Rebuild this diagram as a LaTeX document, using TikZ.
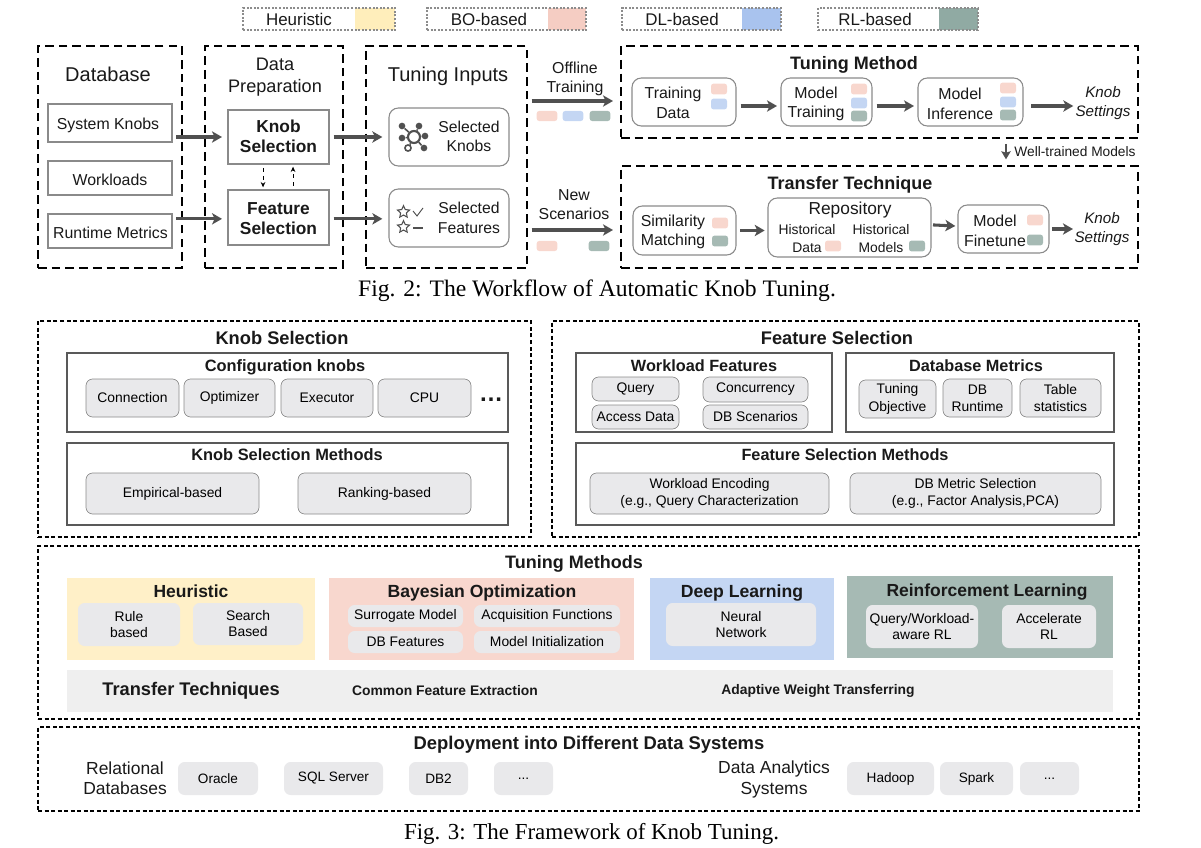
\documentclass[tikz,border=0pt]{standalone}
\usepackage{fontspec}
\setmainfont{Liberation Sans}
\newfontfamily\capfont{Liberation Serif}
\usetikzlibrary{arrows.meta,shapes.geometric}
\definecolor{heurcol}{HTML}{FFF0C8}
\definecolor{bocol}{HTML}{F8D7CE}
\definecolor{dlcol}{HTML}{C4D6F3}
\definecolor{rlcol}{HTML}{A6BAB4}
\definecolor{heurkey}{HTML}{FFEEBB}
\definecolor{bokey}{HTML}{F5CDC3}
\definecolor{dlkey}{HTML}{A9C3EE}
\definecolor{rlkey}{HTML}{90AAA3}
\definecolor{itemcol}{HTML}{E9E9EB}
\definecolor{bandcol}{HTML}{EFEFEF}
\definecolor{edgecol}{HTML}{8A8A8A}
\definecolor{arrcol}{HTML}{505050}
\tikzset{
  fs/.style={font=\fontsize{#1}{\fpeval{#1*1.15}}\selectfont},
  fl/.style={font=\fontsize{#1}{\fpeval{#1*1.24}}\selectfont},
  fb/.style={font=\fontsize{#1}{\fpeval{#1*1.15}}\selectfont\bfseries},
  fi/.style={font=\fontsize{#1}{\fpeval{#1*1.2}}\selectfont\itshape},
  txt/.style={align=center,inner sep=0pt,text=black!90},
  stage/.style={draw=black,line width=1.5pt,dash pattern=on 6.5pt off 3.8pt},
  panel/.style={draw=black,line width=1.1pt,dash pattern=on 3pt off 1.9pt},
  flat/.style={draw=edgecol,line width=1pt},
  soft/.style={draw=edgecol,line width=.8pt,rounded corners=7pt},
  frame/.style={draw=black!65,line width=1.2pt},
  item/.style={fill=itemcol,rounded corners=5pt},
  swatch/.style={minimum width=12pt,minimum height=8.2pt,inner sep=0pt,rounded corners=2pt},
  wide/.style={minimum width=15.5pt,minimum height=7.6pt},
  keybox/.style={draw=black!45,line width=.9pt,dash pattern=on 1.5pt off 1.2pt},
  bigarr/.style={draw=arrcol,line width=2.3pt,-{Stealth[length=7.5pt,width=8.5pt,inset=2pt]},shorten <=3.5pt,shorten >=5pt},
  dasharr/.style={draw=black,line width=.7pt,dashed,-{Stealth[length=4pt,width=3.5pt]},shorten <=3pt,shorten >=2pt},
  dot/.style={circle,fill=arrcol,inner sep=0pt,minimum size=5pt},
}
\begin{document}
\begin{tikzpicture}[x=.75pt,y=-.75pt]
  \useasboundingbox (0,0) rectangle (1201,848);
  \def\bx[#1](#2)(#3,#4)(#5,#6)#7{%
    \pgfmathsetmacro\cx{(#3+#5)/2}%
    \pgfmathsetmacro\cy{(#4+#6)/2}%
    \node[#1,align=center,inner sep=0pt,outer sep=0pt,
      minimum width={(#5-#3)*.75pt},minimum height={(#6-#4)*.75pt}] (#2) at (\cx,\cy) {#7};}
  \def\more{...}

  % legend
  \foreach \nm/\xa/\xs/\xb/\cc/\xt/\tx in {heur/243/355/395/heurkey/299/Heuristic,bo/427/548/586/bokey/489/BO-based,
    dl/622/742/781/dlkey/682/DL-based,rl/818/939/978/rlkey/875/RL-based}{
    \bx[fill=\cc](\nm key)(\xs,8)(\xb,30){}
    \bx[keybox](\nm box)(\xa,8)(\xb,30){}
    \node[txt,fs=12.7] (\nm txt) at (\xt,19) {\tx};
  }

  % top row, the dashed stages
  \bx[stage](db)(38,46)(182,268){}
  \bx[stage](prep)(205,46)(343,268){}
  \bx[stage](inputs)(366,46)(527,268){}
  \bx[stage](tmethod)(621,46)(1138,138){}
  \bx[stage](ttrans)(621,166)(1138,268){}
  \node[txt,fs=15] (dbtxt) at (108,74) {Database};
  \node[txt,fl=13.6] (preptxt) at (275,77) {Data\\Preparation};
  \node[txt,fs=15] (inputstxt) at (448,76.5) {Tuning Inputs};
  \node[txt,fb=13.5] (tmethodtxt) at (854,65) {Tuning Method};
  \node[txt,fb=13.5] (ttranstxt) at (850,185) {Transfer Technique};

  \bx[flat](sysknobs)(48,104)(172,142){}
  \bx[flat](workloads)(48,161)(172,195){}
  \bx[flat](runtime)(48,214)(172,248){}
  \node[txt,fs=11.9] (sysknobstxt) at (108,125) {System Knobs};
  \node[txt,fs=11.9] (workloadstxt) at (110,180) {Workloads};
  \node[txt,fs=11.9] (runtimetxt) at (110.5,233) {Runtime Metrics};
  \bx[flat](knobsel)(228,110)(329,164){}
  \bx[flat](featsel)(228,190)(329,245){}
  \node[txt,fb=13] (knobseltxt) at (278.5,136) {Knob\\Selection};
  \node[txt,fb=13] (featseltxt) at (278.5,218.5) {Feature\\Selection};
  \bx[soft](selknobs)(389,108)(509,166){}
  \bx[soft](selfeats)(389,189)(509,247){}
  \node[txt,fl=11.8] (selknobstxt) at (469,136.5) {Selected\\Knobs};
  \node[txt,fl=11.8] (selfeatstxt) at (469,218) {Selected\\Features};

  % icon of the knobs
  \node[circle,draw=arrcol,line width=1.6pt,fill=white,minimum size=9pt,inner sep=0pt] (hub) at (414,137) {};
  \foreach \nm/\xx/\yy in {a/402/126,b/419/126,c/425/136,d/402/138,e/424/148}{
    \node[dot] (sat\nm) at (\xx,\yy) {};
    \draw[arrcol,line width=1.2pt] (hub) -- (sat\nm);
  }
  \node[circle,draw=arrcol,line width=1.2pt,fill=white,minimum size=4.6pt,inner sep=0pt] (satf) at (408,148) {};
  \draw[arrcol,line width=1.2pt] (hub) -- (satf);

  % icon of the features
  \foreach \nm/\yy in {a/212,b/227}
    \node[star,star points=5,star point ratio=2.1,draw=arrcol,line width=.8pt,minimum size=9.5pt,inner sep=0pt] (star\nm) at (403.5,\yy) {};
  \draw[arrcol,line width=.7pt] (413,211)--(417,216)--(423,208);
  \draw[arrcol,line width=.9pt] (413,228)--(423,228);

  % arrows of the left half
  \draw[bigarr,shorten <=3pt,shorten >=4.5pt] (sysknobs.east |- knobsel.west) -- (knobsel.west);
  \draw[bigarr,shorten <=3pt,shorten >=4.5pt] ([yshift=-1pt]runtime.east |- featsel.west) -- ([yshift=-1pt]featsel.west);
  \draw[bigarr] (knobsel.east) -- (selknobs.west);
  \draw[bigarr] ([yshift=-1pt]featsel.east) -- ([yshift=-1pt]selfeats.west |- featsel.east);
  \draw[dasharr] ([xshift=-11.6pt]knobsel.south) -- ([xshift=-11.6pt]featsel.north);
  \draw[dasharr] ([xshift=10.9pt]featsel.north) -- ([xshift=10.9pt]knobsel.south);

  % between inputs and the two stages on the right
  \node[txt,fl=11.9] (offtxt) at (575,79) {Offline\\Training};
  \node[txt,fl=11.9] (newtxt) at (574,204.5) {New\\Scenarios};
  \coordinate (offy) at (570,101);
  \coordinate (newy) at (570,230);
  \draw[bigarr,shorten >=6pt] (inputs.east |- offy) -- (tmethod.west |- offy);
  \draw[bigarr,shorten >=6pt] (inputs.east |- newy) -- (ttrans.west |- newy);
  \foreach \nm/\xx/\yy/\cc in {offa/547/116/bocol,offb/573/116/dlcol,offc/600/116/rlcol,newa/547/246/bocol,newc/599/246/rlcol}
    \node[swatch,wide,fill=\cc] (\nm) at (\xx,\yy) {};

  % tuning method
  \bx[soft](tdata)(632,78)(736,126){}
  \bx[soft](mtrain)(781,78)(872,126){}
  \bx[soft](minfer)(918,78)(1023,126){}
  \node[txt,fl=11.9] (tdatatxt) at (673,103) {Training\\Data};
  \node[txt,fl=11.9] (mtraintxt) at (816,104) {Model\\Training};
  \node[txt,fl=11.9] (minfertxt) at (960,103.5) {Model\\Inference};
  \node[txt,fi=11.4] (settingsa) at (1103,103) {Knob\\Settings};
  \foreach \nm/\xx/\yy/\cc in {tda/719/89/bocol,tdb/719/104/dlcol,
    mta/859/89/bocol,mtb/859/103/dlcol,mtc/859/116/rlcol,
    mia/1008/88/bocol,mib/1008/102/dlcol,mic/1008/115/rlcol}
    \node[swatch,fill=\cc] (\nm) at (\xx,\yy) {};
  \draw[bigarr,shorten <=3.5pt,shorten >=3pt] ([yshift=-3pt]tdata.east) -- ([yshift=-3pt]mtrain.west);
  \draw[bigarr,shorten <=3.5pt,shorten >=3pt] ([yshift=-3pt]mtrain.east) -- ([yshift=-3pt]minfer.west);
  \draw[bigarr,shorten <=6pt,shorten >=1.5pt] ([yshift=-3pt]minfer.east) -- ([yshift=-3pt]settingsa.west |- minfer.east);

  % the hand over from one stage to the other
  \coordinate (handx) at (1006,150);
  \draw[bigarr,line width=2pt,-{Stealth[length=6pt,width=7pt,inset=1pt]},shorten <=4.5pt,shorten >=5pt] (handx |- tmethod.south) -- (handx |- ttrans.north);
  \node[txt,fs=10.3] (handtxt) at (1075,152) {Well-trained Models};

  % transfer technique
  \bx[soft](simmatch)(633,206)(736,255){}
  \bx[soft](repo)(768,198)(931,257){}
  \bx[soft](finetune)(958,205)(1049,253){}
  \node[txt,fl=11.9] (simtxt) at (673,232) {Similarity\\Matching};
  \node[txt,fs=13] (repotxt) at (850,210) {Repository};
  \node[txt,fl=10.4] (hdatatxt) at (807,238.5) {Historical\\Data};
  \node[txt,fl=10.4] (hmodeltxt) at (881,238.5) {Historical\\Models};
  \node[txt,fl=11.9] (finetxt) at (995,230.5) {Model\\Finetune};
  \node[txt,fi=11.4] (settingsb) at (1102,229) {Knob\\Settings};
  \foreach \nm/\xx/\yy/\cc in {sima/720/223/bocol,simb/720/241/rlcol,hda/833/246/bocol,hma/917/246/rlcol,
    fina/1035/220/bocol,finb/1035/240/rlcol}
    \node[swatch,fill=\cc] (\nm) at (\xx,\yy) {};
  \draw[bigarr,shorten <=3pt,shorten >=2.5pt] (simmatch.east) -- (repo.west |- simmatch.east);
  \draw[bigarr,shorten <=1.5pt,shorten >=2pt] ([yshift=2pt]repo.east) -- ([yshift=1pt]finetune.west |- repo.east);
  \draw[bigarr,shorten <=2.5pt,shorten >=1pt] (finetune.east) -- (settingsb.west |- finetune.east);

  \node[inner sep=0pt,font=\capfont\fontsize{17.7}{20}\selectfont] (figa) at (597,290.5) {Fig. 2: The Workflow of Automatic Knob Tuning.};

  % framework: knob selection
  \bx[panel](kspanel)(38,321)(531,537){}
  \bx[panel](fspanel)(552,321)(1139,537){}
  \node[txt,fb=13.7] (kstxt) at (282,338) {Knob Selection};
  \node[txt,fb=13.7] (fstxt) at (837,338) {Feature Selection};
  \bx[frame](cfgbox)(67,353)(508,432){}
  \bx[frame](ksmbox)(67,443)(508,525){}
  \node[txt,fb=12.3] (cfgtxt) at (285,367) {Configuration knobs};
  \node[txt,fb=12.3] (ksmtxt) at (287,455) {Knob Selection Methods};
  \foreach \nm/\xa/\xb/\tx in {conn/86/179/Connection,opt/184/275/Optimizer,exe/281/373/Executor,cpu/378/471/CPU}
    \bx[soft,fill=itemcol,fs=10.4,rounded corners=5pt,line width=.5pt](\nm)(\xa,379)(\xb,417){\tx};
  \node[txt,fb=18] (moreknobs) at (491,400) {…};
  \bx[soft,fill=itemcol,fs=10.4,rounded corners=5pt,line width=.5pt](emp)(86,473)(259,514){Empirical-based}
  \bx[soft,fill=itemcol,fs=10.4,rounded corners=5pt,line width=.5pt](rank)(298,473)(471,514){Ranking-based}

  % framework: feature selection
  \bx[frame](wfbox)(576,353)(832,432){}
  \bx[frame](dmbox)(846,353)(1114,432){}
  \bx[frame](fsmbox)(576,443)(1114,525){}
  \node[txt,fb=12.2] (wftxt) at (704,366) {Workload Features};
  \node[txt,fb=12.2] (dmtxt) at (976,366) {Database Metrics};
  \node[txt,fb=12.2] (fsmtxt) at (845,455) {Feature Selection Methods};
  \foreach \nm/\xa/\ya/\xb/\yb/\tx in {query/592/377/679/401/Query,conc/703/377/808/402/Concurrency,
    access/592/405/679/429/Access Data,scen/703/405/808/429/DB Scenarios,
    tobj/859/380/936/418/{Tuning\\Objective},dbrun/943/379/1012/417/{DB\\Runtime},tabst/1020/379/1101/417/{Table\\statistics},
    wenc/590/473/829/514/{Workload Encoding\\(e.g., Query Characterization},dbsel/850/473/1101/514/{DB Metric Selection\\(e.g., Factor Analysis,PCA)}}
    \bx[soft,fill=itemcol,fl=10.4,rounded corners=5pt,line width=.5pt](\nm)(\xa,\ya)(\xb,\yb){\tx};

  % framework: tuning methods
  \bx[panel](tmpanel)(38,546)(1139,719){}
  \node[txt,fb=13.5] (tmtxt) at (574,564) {Tuning Methods};
  \bx[fill=heurcol](heurfam)(67,578)(315,660){}
  \bx[fill=bocol](bofam)(329,578)(634,660){}
  \bx[fill=dlcol](dlfam)(650,578)(834,660){}
  \bx[fill=rlcol](rlfam)(847,576)(1113,658){}
  \node[txt,fb=13.1] (heurtxt) at (191,591) {Heuristic};
  \node[txt,fb=13.2] (botxt) at (482,593) {Bayesian Optimization};
  \node[txt,fb=13.2] (dltxt) at (742,593) {Deep Learning};
  \node[txt,fb=13.1] (rltxt) at (987,592) {Reinforcement Learning};
  \foreach \nm/\xa/\ya/\xb/\yb/\tx in {rule/78/603/180/646/{Rule\\based},search/193/603/303/645/{Search\\Based},
    surr/348/605/463/627/Surrogate Model,acq/474/605/620/627/Acquisition Functions,
    dbf/348/631/463/653/DB Features,minit/474/631/620/653/Model Initialization,
    nn/666/603/816/646/{Neural\\Network},qw/866/605/978/648/{Query/Workload-\\aware RL},acc/1002/605/1096/648/{Accelerate\\RL}}
    \bx[item,fs=10.4](\nm)(\xa,\ya)(\xb,\yb){\tx};
  \bx[fill=bandcol](band)(67,670)(1113,712){}
  \node[txt,fb=13.7] (bandtxt) at (191,691) {Transfer Techniques};
  \node[txt,fb=10.4] (cfetxt) at (445,691) {Common Feature Extraction};
  \node[txt,fb=10.4] (awttxt) at (818,691) {Adaptive Weight Transferring};

  % framework: deployment
  \bx[panel](deppanel)(38,727)(1139,811){}
  \node[txt,fb=13.8] (deptxt) at (589,745) {Deployment into Different Data Systems};
  \node[txt,fs=13.1] (reltxt) at (125,778) {Relational\\Databases};
  \node[txt,fs=13.1] (anatxt) at (774,779.5) {Data Analytics\\Systems};
  \foreach \nm/\xa/\xb/\tx in {oracle/178/258/Oracle,sql/284/383/SQL Server,dbtwo/409/468/DB2,moredb/494/553/\more,
    hadoop/847/934/Hadoop,spark/940/1013/Spark,moresys/1020/1079/\more}
    \bx[item,fs=10.2](\nm)(\xa,762)(\xb,795){\tx};

  \node[inner sep=0pt,font=\capfont\fontsize{17.2}{20}\selectfont] (figb) at (591.5,833.5) {Fig. 3: The Framework of Knob Tuning.};
\end{tikzpicture}
\end{document}
